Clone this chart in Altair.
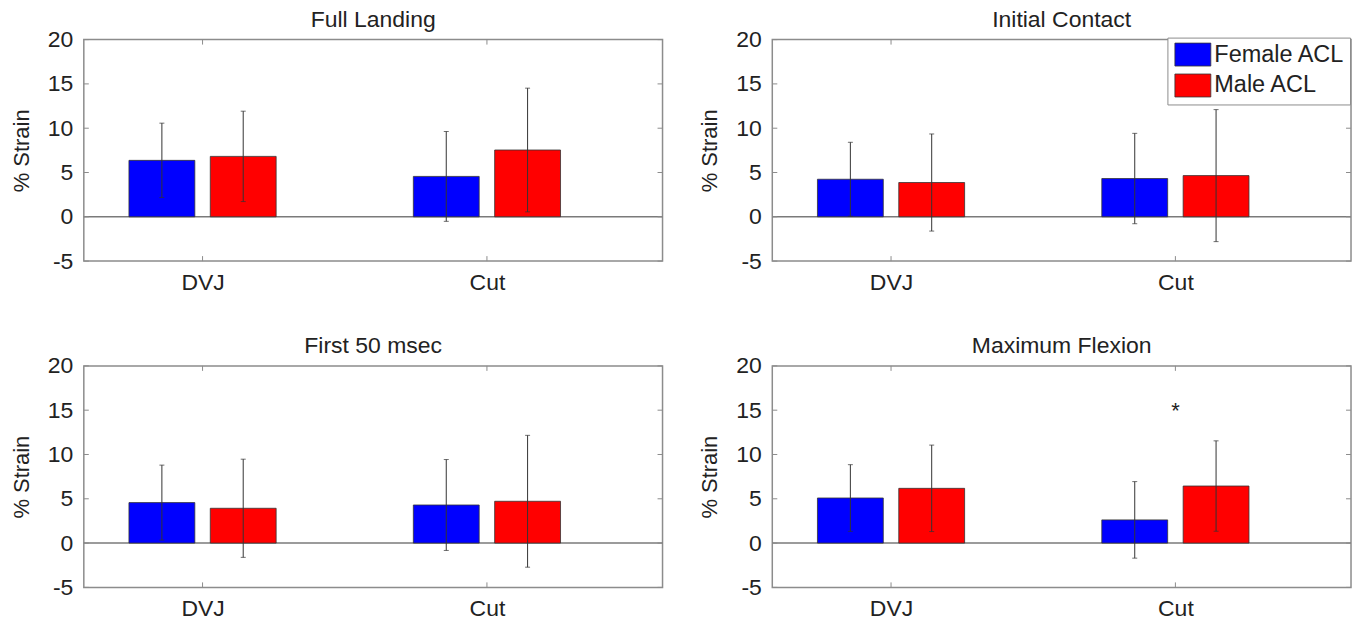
import altair as alt
import pandas as pd

# ---------------- data ----------------
panels = ["Full Landing", "Initial Contact", "First 50 msec", "Maximum Flexion"]
tasks = ["DVJ", "Cut"]
task_pos = [1, 2]
groups = ["Female ACL", "Male ACL"]
group_shift = [-0.143, 0.143]
colors = ["#0000FF", "#FF0000"]

# order of values: DVJ-Female, DVJ-Male, Cut-Female, Cut-Male
mean_full_landing = [6.37, 6.82, 4.56, 7.54]
sd_full_landing = [4.2, 5.1, 5.07, 6.98]
mean_initial_contact = [4.24, 3.87, 4.32, 4.65]
sd_initial_contact = [4.17, 5.48, 5.1, 7.45]
mean_first_50 = [4.57, 3.93, 4.30, 4.72]
sd_first_50 = [4.23, 5.54, 5.13, 7.44]
mean_max_flexion = [5.09, 6.18, 2.62, 6.44]
sd_max_flexion = [3.76, 4.88, 4.32, 5.1]

star_task = [2]
star_value = [15.3]

y_ticks = [-5, 0, 5, 10, 15, 20]

means = [mean_full_landing, mean_initial_contact, mean_first_50, mean_max_flexion]
sds = [sd_full_landing, sd_initial_contact, sd_first_50, sd_max_flexion]

rows = []
for p, m_list, s_list in zip(panels, means, sds):
    k = 0
    for t, tp in zip(tasks, task_pos):
        for g, gs in zip(groups, group_shift):
            rows.append({"panel": p, "task": t, "pos": tp, "shift": gs,
                         "group": g, "mean": m_list[k], "sd": s_list[k]})
            k += 1
df = pd.DataFrame(rows)

# ---------------- styling ----------------
W, H = 580, 222
FONT = "Liberation Sans"
FRAME = "#8c8c8c"
TXT = "#222222"

xscale = alt.Scale(domain=[0.6, 2.6], nice=False, zero=False)
yscale = alt.Scale(domain=[-5, 20], nice=False, zero=False)

label_expr_x = "[" + ",".join("'%s'" % t for t in tasks) + "][datum.value - 1]"


def panel(name, with_legend=False, star=False):
    d = df[df["panel"] == name]
    base = alt.Chart(d).transform_calculate(
        xpos="datum.pos + datum.shift",
        lo="datum.mean - datum.sd",
        hi="datum.mean + datum.sd",
    )
    xaxis = alt.Axis(values=task_pos, labelExpr=label_expr_x, title=None,
                     labelPadding=10, domain=False, ticks=False, grid=False)
    yaxis = alt.Axis(values=y_ticks, labelExpr="'' + datum.value", title="% Strain",
                     labelPadding=11, titlePadding=14, domain=False, ticks=False, grid=False)
    if with_legend:
        leg = alt.Legend(
            title=None, orient="none", legendX=396, legendY=-2, direction="vertical",
            symbolType="M-1.565,-1L1.565,-1L1.565,1L-1.565,1Z", symbolSize=529,
            symbolStrokeColor="#333333", symbolStrokeWidth=0.8, symbolOpacity=1,
            labelFont=FONT, labelFontSize=23.5, labelColor=TXT, labelOffset=9.5,
            padding=5, rowPadding=3, strokeColor=FRAME, fillColor="white",
            symbolOffset=8.5,
        )
    else:
        leg = None
    bars = base.mark_bar(size=66, stroke="#333333", strokeWidth=0.8).encode(
        x=alt.X("xpos:Q", scale=xscale, axis=xaxis),
        y=alt.Y("mean:Q", scale=yscale, axis=yaxis),
        y2=alt.datum(0),
        color=alt.Color("group:N", scale=alt.Scale(domain=groups, range=colors), legend=leg),
    )
    zero = alt.Chart(pd.DataFrame({"z": [0]})).mark_rule(color="#7a7a7a", strokeWidth=1.5).encode(
        y=alt.Y("z:Q", scale=yscale)
    )
    err = base.mark_rule(color="#333333", strokeWidth=1).encode(
        x=alt.X("xpos:Q", scale=xscale), y=alt.Y("lo:Q", scale=yscale), y2="hi:Q"
    )
    cap_lo = base.mark_tick(orient="horizontal", size=5, thickness=1, color="#333333").encode(
        x=alt.X("xpos:Q", scale=xscale), y=alt.Y("lo:Q", scale=yscale)
    )
    cap_hi = base.mark_tick(orient="horizontal", size=5, thickness=1, color="#333333").encode(
        x=alt.X("xpos:Q", scale=xscale), y=alt.Y("hi:Q", scale=yscale)
    )
    yt = alt.Chart(pd.DataFrame({"v": y_ticks}))
    yt_left = yt.mark_rule(color=FRAME, strokeWidth=1).encode(
        y=alt.Y("v:Q", scale=yscale), x=alt.value(0), x2=alt.value(5))
    yt_right = yt.mark_rule(color=FRAME, strokeWidth=1).encode(
        y=alt.Y("v:Q", scale=yscale), x=alt.value(W - 5), x2=alt.value(W))
    xt = alt.Chart(pd.DataFrame({"p": task_pos}))
    xt_bottom = xt.mark_rule(color=FRAME, strokeWidth=1).encode(
        x=alt.X("p:Q", scale=xscale), y=alt.value(H - 5), y2=alt.value(H))
    xt_top = xt.mark_rule(color=FRAME, strokeWidth=1).encode(
        x=alt.X("p:Q", scale=xscale), y=alt.value(0), y2=alt.value(5))
    layers = [zero, bars, err, cap_lo, cap_hi, yt_left, yt_right, xt_bottom, xt_top]
    if star:
        st = alt.Chart(pd.DataFrame({"p": star_task, "v": star_value})).mark_text(
            text="*", fontSize=22, font=FONT, color=TXT, baseline="alphabetic", dy=10
        ).encode(x=alt.X("p:Q", scale=xscale), y=alt.Y("v:Q", scale=yscale))
        layers.append(st)
    return alt.layer(*layers).properties(
        width=W, height=H,
        title=alt.TitleParams(name, fontSize=23, font=FONT, fontWeight="normal", color=TXT,
                              anchor="middle", frame="group", baseline="alphabetic", offset=-21),
    )


top = alt.hconcat(panel(panels[0]), panel(panels[1], with_legend=True), spacing=33
                  ).resolve_scale(color="independent").resolve_legend(color="independent")
bottom = alt.hconcat(panel(panels[2]), panel(panels[3], star=True), spacing=33
                     ).resolve_scale(color="independent").resolve_legend(color="independent")
chart = alt.vconcat(top, bottom, spacing=39).resolve_scale(color="independent").resolve_legend(
    color="independent"
).configure_view(stroke=FRAME, strokeWidth=1.5).configure_axis(
    labelFont=FONT, labelFontSize=23, labelColor=TXT, titleFont=FONT, titleFontSize=22,
    titleColor=TXT, titleFontWeight="normal"
).properties(padding={"left": 9, "top": 7, "right": 5, "bottom": 2}, background="white")

chart.save("out.html", embed_options={"renderer": "svg", "actions": False})
